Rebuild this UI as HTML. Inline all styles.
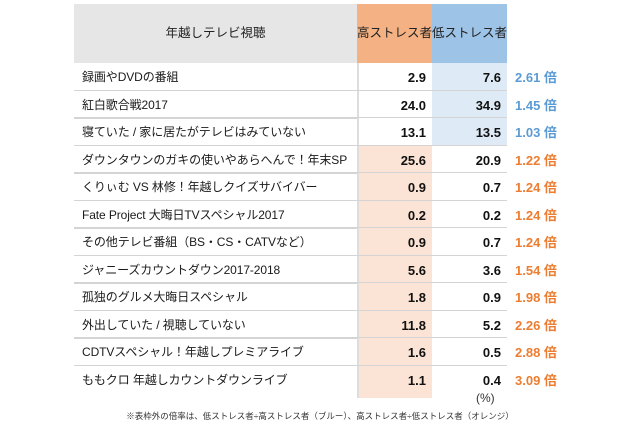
<!DOCTYPE html>
<html><head><meta charset="utf-8"><style>
body{margin:0;width:640px;height:429px;background:#fff;font-family:"Liberation Sans","Noto Sans CJK JP",sans-serif;position:relative;overflow:hidden}
div{position:absolute;box-sizing:border-box}
.t{font-size:12px;color:#1a1a1a;white-space:nowrap;line-height:27px;letter-spacing:-0.1px}
.v{font-size:13px;font-weight:bold;color:#111;text-align:right;line-height:27px}
.r{font-size:13px;font-weight:bold;line-height:27px;white-space:nowrap}
</style></head><body>
<div style="left:74px;top:4px;width:283px;height:59px;background:#e6e6e6;text-align:center;line-height:59px;font-size:12.5px;color:#222">年越しテレビ視聴</div>
<div style="left:357px;top:4px;width:75px;height:59px;background:#f4b183;text-align:center;line-height:59px;font-size:12.5px;color:#222">高ストレス者</div>
<div style="left:432px;top:4px;width:75px;height:59px;background:#9dc3e6;text-align:center;line-height:59px;font-size:12.5px;color:#222">低ストレス者</div>
<div id="rows"></div>
<div style="left:476px;top:391px;font-size:12px;color:#333">(%)</div>
<div style="left:0;width:640px;top:410px;text-align:center;font-size:8.5px;color:#333">※表枠外の倍率は、低ストレス者÷高ストレス者（ブルー）、高ストレス者÷低ストレス者（オレンジ）</div>
<script>
const categories=["録画やDVDの番組","紅白歌合戦2017","寝ていた / 家に居たがテレビはみていない","ダウンタウンのガキの使いやあらへんで！年末SP","くりぃむ VS 林修！年越しクイズサバイバー","Fate Project 大晦日TVスペシャル2017","その他テレビ番組（BS・CS・CATVなど）","ジャニーズカウントダウン2017-2018","孤独のグルメ大晦日スペシャル","外出していた / 視聴していない","CDTVスペシャル！年越しプレミアライブ","ももクロ 年越しカウントダウンライブ"];
const highStress=[2.9,24.0,13.1,25.6,0.9,0.2,0.9,5.6,1.8,11.8,1.6,1.1];
const lowStress=[7.6,34.9,13.5,20.9,0.7,0.2,0.7,3.6,0.9,5.2,0.5,0.4];
const ratios=["2.61 倍","1.45 倍","1.03 倍","1.22 倍","1.24 倍","1.24 倍","1.24 倍","1.54 倍","1.98 倍","2.26 倍","2.88 倍","3.09 倍"];
const host=document.getElementById('rows');
const top0=63,rh=27.5;
categories.forEach((c,i)=>{
  const y=top0+i*rh;
  const blue=i<3;
  const last=i===categories.length-1;
  const h=last?rh+5:rh;
  const oc=document.createElement('div');
  
  
  oc.style.cssText=`left:357px;top:${y}px;width:75px;height:${h}px;background:${blue?'#fff':'#fbe4d5'};border-left:2px solid #ddd`;
  host.appendChild(oc);
  const bc=document.createElement('div');
  
  
  bc.style.cssText=`left:432px;top:${y}px;width:75px;height:${rh}px;background:${blue?'#deebf7':'#fff'}`;
  host.appendChild(bc);
  if(!last){const ln=document.createElement('div');
  
  
  ln.style.cssText=`left:74px;top:${y+rh-1}px;width:433px;height:1.5px;background:#d4d4d4`;
  host.appendChild(ln);}
  const t=document.createElement('div');
  
  
  t.className='t';t.style.cssText=`left:82px;top:${y+1}px`;t.textContent=c;host.appendChild(t);
  const a=document.createElement('div');
  
  
  a.className='v';a.style.cssText=`left:357px;width:69px;top:${y+1}px`;a.textContent=highStress[i].toFixed(1);host.appendChild(a);
  const b=document.createElement('div');
  
  
  b.className='v';b.style.cssText=`left:432px;width:69px;top:${y+1}px`;b.textContent=lowStress[i].toFixed(1);host.appendChild(b);
  const r=document.createElement('div');
  
  
  r.className='r';r.style.cssText=`left:515px;top:${y+1}px;color:${blue?'#5b9bd5':'#ed7d31'}`;r.textContent=ratios[i];host.appendChild(r);
});
</script>
</body></html>
